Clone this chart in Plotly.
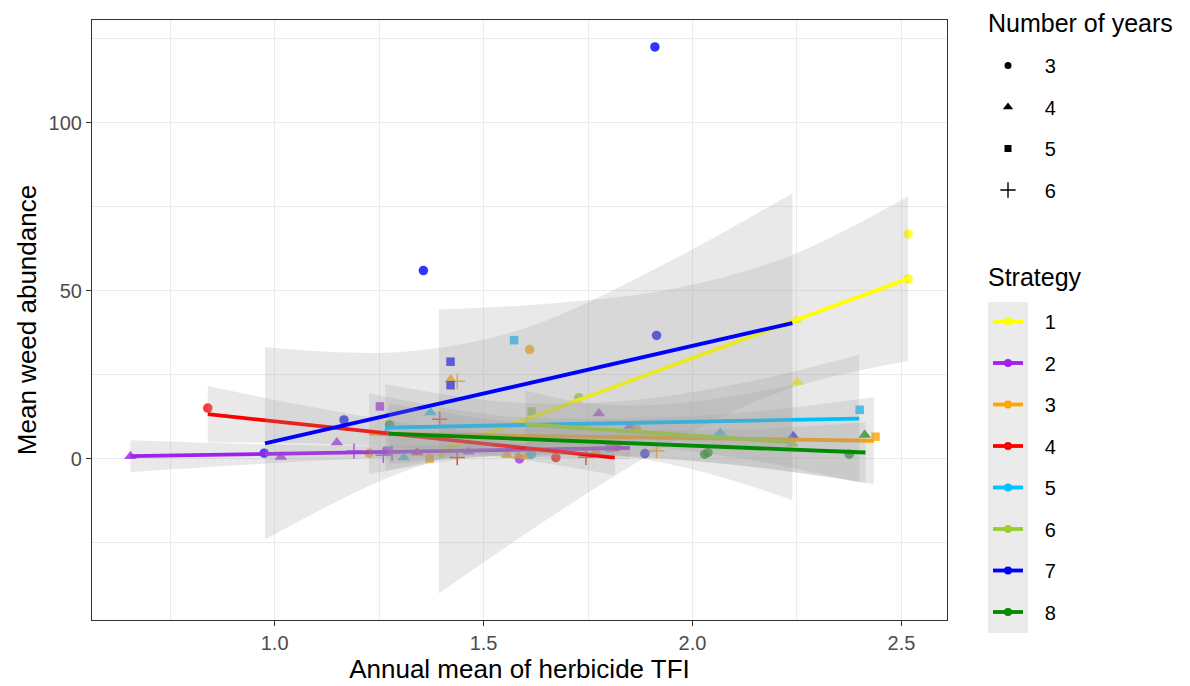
import plotly.graph_objects as go

# ---------------- data ----------------
strategies = ["1", "2", "3", "4", "5", "6", "7", "8"]
year_levels = [3, 4, 5, 6]

# scatter points
pt_strategy = ["1", "1", "1", "1", "1",
               "2", "2", "2", "2", "2", "2", "2", "2", "2", "2", "2", "2", "2",
               "3", "3", "3", "3", "3", "3", "3", "3", "3", "3", "3", "3",
               "4", "4", "4", "4", "4", "4", "4",
               "5", "5", "5", "5", "5", "5", "5",
               "6", "6", "6",
               "7", "7", "7", "7", "7", "7", "7", "7", "7",
               "8", "8", "8", "8", "8"]
pt_tfi = [2.516, 2.516, 2.251, 2.248, 1.400,
          0.655, 1.015, 1.149, 1.252, 1.190, 1.260, 1.281, 1.270, 1.464, 1.776, 1.586, 1.802, 1.850,
          1.226, 1.371, 1.421, 1.437, 1.610, 1.556, 1.583, 1.603, 1.769, 1.914, 2.438, 1.866,
          0.840, 1.395, 1.341, 1.437, 1.673, 1.818, 1.745,
          1.373, 1.309, 1.267, 1.573, 1.615, 2.066, 2.400,
          1.615, 1.728, 2.239,
          0.975, 1.166, 1.356, 1.421, 1.421, 1.886, 1.910, 1.914, 2.241,
          1.275, 2.029, 2.037, 2.375, 2.412]
pt_weed = [66.9, 53.5, 22.8, 41.2, 1.6,
           0.8, 0.6, 4.9, 15.6, 2.3, 1.1, 1.7, 2.4, 2.1, 13.5, 0.0, 3.4, 9.8,
           1.7, 0.1, 23.6, 23.1, 32.5, 1.1, 0.9, 0.7, 2.4, 2.4, 6.6, 8.8,
           15.1, 11.8, 1.9, 0.4, 0.4, 3.6, 0.5,
           13.8, 0.4, 7.6, 35.3, 1.4, 7.8, 14.6,
           14.1, 18.2, 4.5,
           1.7, 11.6, 56.0, 28.9, 21.9, 1.6, 122.5, 36.7, 6.7,
           10.1, 1.4, 1.9, 1.4, 7.1]
pt_years = [3, 3, 4, 4, 5,
            4, 4, 4, 5, 6, 6, 6, 5, 4, 4, 3, 5, 4,
            3, 5, 4, 6, 3, 4, 4, 4, 5, 6, 5, 3,
            3, 6, 4, 6, 3, 3, 6,
            4, 4, 4, 5, 3, 4, 5,
            5, 3, 4,
            3, 3, 3, 5, 5, 3, 3, 3, 4,
            3, 3, 3, 3, 4]

# linear fits (start / end of each regression line)
fit_x0 = [1.393, 0.655, 1.226, 0.840, 1.265, 1.600, 0.977, 1.273]
fit_x1 = [2.516, 1.850, 2.434, 1.814, 2.399, 2.239, 2.239, 2.414]
fit_y0 = [2.2, 0.8, 7.5, 13.3, 9.3, 10.3, 4.6, 7.5]
fit_y1 = [53.6, 3.3, 5.4, 0.4, 12.0, 4.9, 40.4, 1.9]

# confidence bands (x, lower, upper) per strategy
band_x_1 = [1.393, 1.67, 1.95, 2.23, 2.516]
band_lo_1 = [-40.0, -16.5, 4.9, 20.8, 29.1]
band_hi_1 = [44.4, 46.3, 50.5, 60.2, 78.1]

band_x_2 = [0.655, 0.95, 1.25, 1.55, 1.85]
band_lo_2 = [-3.95, -1.58, 0.25, 0.67, -0.1]
band_hi_2 = [5.55, 4.42, 3.85, 4.67, 6.7]

band_x_3 = [1.226, 1.53, 1.83, 2.13, 2.434]
band_lo_3 = [-4.5, 1.0, 0.95, -2.1, -7.5]
band_hi_3 = [19.5, 13.0, 11.95, 13.9, 18.3]

band_x_4 = [0.840, 1.08, 1.33, 1.57, 1.814]
band_lo_4 = [4.9, 4.62, 3.2, 0.22, -4.8]
band_hi_4 = [21.7, 15.62, 10.4, 7.02, 5.6]

band_x_5 = [1.265, 1.55, 1.83, 2.11, 2.399]
band_lo_5 = [-3.6, 2.98, 4.14, 0.31, -7.0]
band_hi_5 = [22.2, 16.98, 17.14, 22.31, 31.0]

band_x_6 = [1.600, 1.76, 1.92, 2.08, 2.239]
band_lo_6 = [0.3, 1.5, -0.9, -5.8, -12.2]
band_hi_6 = [20.3, 16.5, 16.1, 18.3, 22.0]

band_x_7 = [0.977, 1.30, 1.60, 1.92, 2.239]
band_lo_7 = [-24.0, -4.2, 5.7, 5.7, 1.8]
band_hi_7 = [33.2, 31.8, 38.9, 57.1, 79.0]

band_x_8 = [1.273, 1.56, 1.84, 2.13, 2.414]
band_lo_8 = [-1.5, 1.09, 0.72, -2.21, -7.1]
band_hi_8 = [16.5, 11.09, 8.72, 8.79, 10.9]

# ---------------- styling ----------------
COLORS = ["#FFFF00", "#A020F0", "#FFA500", "#FF0000",
          "#00BFFF", "#9ACD32", "#0000FF", "#008B00"]
SYMBOL = {3: "circle", 4: "triangle-up", 5: "square", 6: "cross-thin"}
MSIZE = {3: 9.5, 4: 11, 5: 8.5, 6: 11}
LEGSIZE = {3: 7, 4: 9, 5: 7, 6: 11}
FONT = "Liberation Sans, Arial, Helvetica, sans-serif"
BAND_FILL = "rgba(153,153,153,0.22)"
NB = "\u00a0\u00a0\u00a0"

bands = [(band_x_1, band_lo_1, band_hi_1), (band_x_2, band_lo_2, band_hi_2),
         (band_x_3, band_lo_3, band_hi_3), (band_x_4, band_lo_4, band_hi_4),
         (band_x_5, band_lo_5, band_hi_5), (band_x_6, band_lo_6, band_hi_6),
         (band_x_7, band_lo_7, band_hi_7), (band_x_8, band_lo_8, band_hi_8)]

fig = go.Figure()

# points
for i, s in enumerate(strategies):
    idx = [k for k, v in enumerate(pt_strategy) if v == s]
    xs = [pt_tfi[k] for k in idx]
    ys = [pt_weed[k] for k in idx]
    yrs = [pt_years[k] for k in idx]
    fig.add_trace(go.Scatter(
        x=xs, y=ys, mode="markers", showlegend=False, hoverinfo="skip",
        marker=dict(symbol=[SYMBOL[y] for y in yrs],
                    size=[MSIZE[y] for y in yrs],
                    color=COLORS[i], opacity=0.8,
                    line=dict(color=COLORS[i],
                              width=[1.6 if y == 6 else 0 for y in yrs]))))

# bands + fitted lines
for i, s in enumerate(strategies):
    bx, blo, bhi = bands[i]
    fig.add_trace(go.Scatter(x=bx, y=blo, mode="lines", showlegend=False,
                             hoverinfo="skip",
                             line=dict(width=0, shape="spline", color=BAND_FILL)))
    fig.add_trace(go.Scatter(x=bx, y=bhi, mode="lines", showlegend=False,
                             hoverinfo="skip", fill="tonexty", fillcolor=BAND_FILL,
                             line=dict(width=0, shape="spline", color=BAND_FILL)))
    fig.add_trace(go.Scatter(x=[fit_x0[i], fit_x1[i]], y=[fit_y0[i], fit_y1[i]],
                             mode="lines", showlegend=False, hoverinfo="skip",
                             line=dict(color=COLORS[i], width=3.8)))

# legend: number of years (shapes)
for y in year_levels:
    fig.add_trace(go.Scatter(
        x=[None], y=[None], mode="markers", name=NB + str(y), legend="legend",
        legendgroup="y%d" % y,
        marker=dict(symbol=SYMBOL[y], size=LEGSIZE[y], color="black",
                    line=dict(color="black", width=1.4 if y == 6 else 0))))

# legend: strategy (colours)
for i, s in enumerate(strategies):
    fig.add_trace(go.Scatter(
        x=[None], y=[None], mode="lines+markers", name=NB + s, legend="legend2",
        legendgroup="s" + s,
        line=dict(color=COLORS[i], width=3.8),
        marker=dict(symbol="circle", size=8, color=COLORS[i])))

axis_common = dict(
    showline=True, mirror=True, linecolor="#333333", linewidth=1.1,
    ticks="outside", ticklen=5, tickcolor="#333333", tickwidth=1.1,
    showgrid=True, gridcolor="#EBEBEB", gridwidth=1.1, zeroline=False,
    tickfont=dict(family=FONT, size=20, color="#4D4D4D"),
)

# The page body adds an 8px margin; lay out in window pixels minus that.
OFF = 8
W, H = 1190 - OFF, 686 - OFF
PL, PR, PT, PB = 92 - OFF, 947 - OFF, 20 - OFF, 620 - OFF  # plot-area box


def px_x(p):
    return (p - OFF - PL) / (PR - PL)


def px_y(p):
    return (PB - (p - OFF)) / (PB - PT)


fig.update_layout(
    width=W, height=H,
    margin=dict(l=PL, r=W - PR, t=PT, b=H - PB),
    paper_bgcolor="white", plot_bgcolor="white",
    font=dict(family=FONT, color="black"),
    xaxis=dict(range=[0.563, 2.609], tick0=0, dtick=0.5, tickformat=".1f",
               minor=dict(dtick=0.25, tick0=0, showgrid=True,
                          gridcolor="#EBEBEB", gridwidth=0.6, ticklen=0),
               title=dict(text="Annual mean of herbicide TFI",
                          font=dict(family=FONT, size=26, color="black"),
                          standoff=1),
               automargin=False, **axis_common),
    yaxis=dict(range=[-47.9, 130.5], tick0=0, dtick=50,
               minor=dict(dtick=25, tick0=0, showgrid=True,
                          gridcolor="#EBEBEB", gridwidth=0.6, ticklen=0),
               title=dict(text="Mean weed abundance",
                          font=dict(family=FONT, size=26, color="black"),
                          standoff=4),
               automargin=False, **axis_common),
    legend=dict(font=dict(family=FONT, size=20, color="black"),
                xref="container", yref="container",
                x=(988 - OFF) / W, y=1 - (46 - OFF) / H,
                xanchor="left", yanchor="top",
                bgcolor="rgba(0,0,0,0)", traceorder="grouped",
                tracegroupgap=12.5, itemsizing="trace"),
    legend2=dict(font=dict(family=FONT, size=20, color="black"),
                 xref="container", yref="container",
                 x=(988 - OFF) / W, y=1 - (302 - OFF) / H,
                 xanchor="left", yanchor="top",
                 bgcolor="rgba(0,0,0,0)", traceorder="grouped",
                 tracegroupgap=12.5, itemsizing="trace"),
    annotations=[
        dict(text="Number of years", xref="paper", yref="paper",
             x=px_x(986), y=px_y(23), xanchor="left", yanchor="middle",
             showarrow=False, font=dict(family=FONT, size=25, color="black")),
        dict(text="Strategy", xref="paper", yref="paper",
             x=px_x(986), y=px_y(277), xanchor="left", yanchor="middle",
             showarrow=False, font=dict(family=FONT, size=25, color="black")),
    ],
    shapes=[dict(type="rect", xref="paper", yref="paper",
                 x0=px_x(988), x1=px_x(1028), y0=px_y(633), y1=px_y(302),
                 fillcolor="#EBEBEB", line=dict(width=0), layer="below")],
)

fig.write_html("out.html")
